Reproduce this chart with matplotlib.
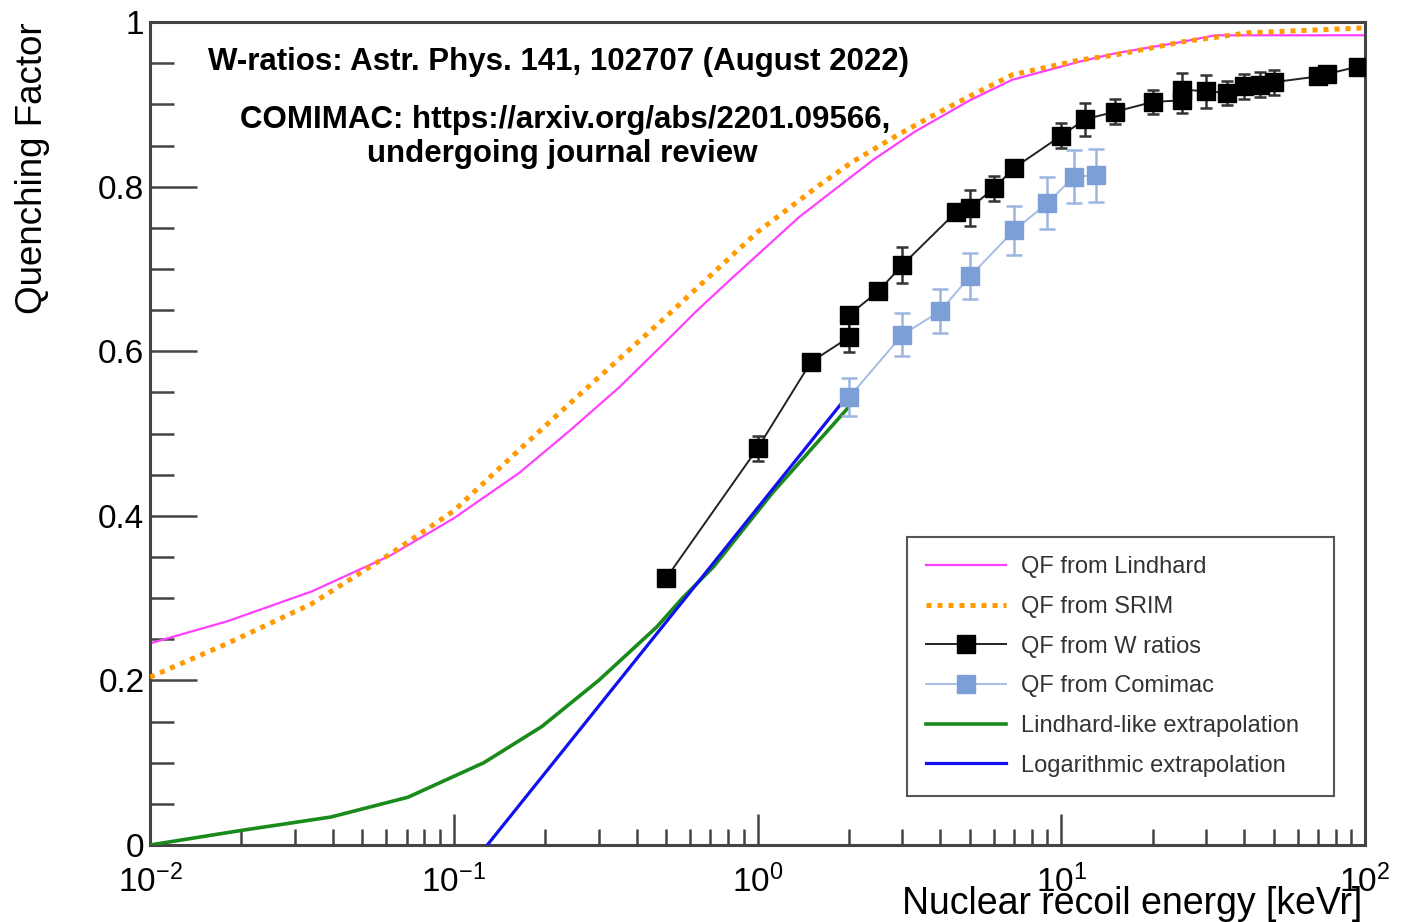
import numpy as np
import matplotlib
matplotlib.use('Agg')
import matplotlib.pyplot as plt
from matplotlib.ticker import MultipleLocator, LogLocator, NullFormatter

plt.rcParams['font.family'] = ['Liberation Sans', 'DejaVu Sans']
plt.rcParams['mathtext.fontset'] = 'custom'
plt.rcParams['mathtext.rm'] = 'Liberation Sans'
plt.rcParams['axes.unicode_minus'] = False

# QF from Lindhard
energy_lindhard = [0.01, 0.018, 0.034, 0.062, 0.1, 0.164, 0.24, 0.35, 0.5, 0.63, 0.83,
                   1.37, 2.39, 3.3, 5.0, 6.9, 11.5, 15, 25, 32, 100]
qf_lindhard = [0.245, 0.272, 0.308, 0.352, 0.397, 0.452, 0.503, 0.556, 0.612, 0.649, 0.690,
               0.763, 0.832, 0.867, 0.905, 0.930, 0.952, 0.962, 0.976, 0.984, 0.984]

# QF from SRIM
energy_srim = [0.01, 0.018, 0.034, 0.062, 0.1, 0.164, 0.24, 0.31, 0.5, 0.7, 1.0,
               1.6, 2.05, 2.87, 3.67, 5.0, 6.9, 11.5, 15, 25, 41, 100]
qf_srim = [0.204, 0.245, 0.293, 0.354, 0.406, 0.480, 0.536, 0.573, 0.642, 0.692, 0.745,
           0.802, 0.830, 0.862, 0.884, 0.910, 0.936, 0.954, 0.960, 0.976, 0.987, 0.993]

# QF from W ratios (points + errors)
energy_wratio = [0.5, 1.0, 1.5, 2.0, 2.0, 2.5, 3.0, 4.5, 5.0, 6.0, 7.0, 10, 12, 15, 20,
                 25, 25, 30, 35, 40, 45, 50, 70, 75, 95]
qf_wratio = [0.324, 0.482, 0.587, 0.617, 0.644, 0.673, 0.705, 0.769, 0.774, 0.798, 0.823,
             0.862, 0.882, 0.891, 0.903, 0.905, 0.918, 0.916, 0.914, 0.922, 0.924, 0.927,
             0.934, 0.937, 0.946]
err_wratio = [0.005, 0.015, 0.005, 0.018, 0.01, 0.01, 0.022, 0.005, 0.022, 0.015, 0.005,
              0.015, 0.02, 0.015, 0.015, 0.015, 0.02, 0.02, 0.015, 0.015, 0.015, 0.015,
              0.005, 0.005, 0.005]

# QF from Comimac
energy_comimac = [2.0, 3.0, 4.0, 5.0, 7.0, 9.0, 11.0, 13.0]
qf_comimac = [0.544, 0.620, 0.649, 0.691, 0.747, 0.780, 0.812, 0.814]
err_comimac = [0.023, 0.026, 0.027, 0.028, 0.030, 0.032, 0.032, 0.032]

# Lindhard-like extrapolation
energy_lindlike = [0.01, 0.0202, 0.0394, 0.0706, 0.1256, 0.195, 0.30, 0.466, 0.566, 0.716, 1.12, 2.05]
qf_lindlike = [0.0, 0.018, 0.034, 0.058, 0.100, 0.144, 0.200, 0.265, 0.300, 0.338, 0.428, 0.537]

# Logarithmic extrapolation
energy_log = [0.129, 2.05]
qf_log = [0.0, 0.553]

fig = plt.figure(figsize=(14.08, 9.22), dpi=100)
ax = fig.add_axes([0.1065, 0.0835, 0.863, 0.8925])

ax.plot(energy_lindhard, qf_lindhard, color='#ff40ff', lw=1.6, label='QF from Lindhard', zorder=2)
ax.plot(energy_srim, qf_srim, color='#ff9a00', lw=3.6, linestyle=(0, (1, 1.2)),
        label='QF from SRIM', zorder=3)

ax.plot(energy_lindlike, qf_lindlike, color='#1a8a1a', lw=2.6, label='Lindhard-like extrapolation', zorder=3)
ax.plot(energy_log, qf_log, color='#1010f0', lw=2.3, label='Logarithmic extrapolation', zorder=4)

ax.errorbar(energy_wratio, qf_wratio, yerr=err_wratio, fmt='none', ecolor='#333333',
            elinewidth=1.8, capsize=4.5, capthick=1.8, zorder=5)
ax.plot(energy_wratio, qf_wratio, color='#222222', lw=1.4, marker='s', markersize=13.5,
        markerfacecolor='black', markeredgecolor='black', label='QF from W ratios', zorder=6)

ax.errorbar(energy_comimac, qf_comimac, yerr=err_comimac, fmt='none', ecolor='#9db5e0',
            elinewidth=1.8, capsize=6, capthick=1.8, zorder=5)
ax.plot(energy_comimac, qf_comimac, color='#a4bbe4', lw=1.4, marker='s', markersize=13.5,
        markerfacecolor='#7b9fd6', markeredgecolor='#7b9fd6', label='QF from Comimac', zorder=6)

ax.set_xscale('log')
ax.set_xlim(0.01, 100)
ax.set_ylim(0, 1)

ax.set_yticks([0, 0.2, 0.4, 0.6, 0.8, 1.0])
ax.set_yticklabels(['0', '0.2', '0.4', '0.6', '0.8', '1'])
ax.yaxis.set_minor_locator(MultipleLocator(0.05))
ax.xaxis.set_major_locator(LogLocator(base=10))
ax.xaxis.set_minor_locator(LogLocator(base=10, subs=np.arange(2, 10)))
ax.xaxis.set_minor_formatter(NullFormatter())

ax.tick_params(axis='both', which='both', direction='in', colors='#444444', width=1.8,
               top=False, right=False, labelcolor='black', labelsize=24)
ax.tick_params(axis='y', which='major', length=34, pad=4)
ax.tick_params(axis='y', which='minor', length=17)
ax.tick_params(axis='x', which='major', length=22, pad=14)
ax.tick_params(axis='x', which='minor', length=11.5)

for sp in ax.spines.values():
    sp.set_linewidth(2.2)
    sp.set_color('#444444')

ax.set_ylabel('Quenching Factor', fontsize=26.5, loc='top')
ax.yaxis.set_label_coords(-0.082, 1.0)
ax.set_xlabel('Nuclear recoil energy [keVr]', fontsize=27, loc='right')
ax.xaxis.set_label_coords(0.998, -0.05)

ax.text(0.336, 0.951, 'W-ratios: Astr. Phys. 141, 102707 (August 2022)', transform=ax.transAxes,
        ha='center', va='center', fontsize=22.5, fontweight='bold')
ax.text(0.3415, 0.881, 'COMIMAC: https://arxiv.org/abs/2201.09566,', transform=ax.transAxes,
        ha='center', va='center', fontsize=22.5, fontweight='bold')
ax.text(0.339, 0.840, 'undergoing journal review', transform=ax.transAxes,
        ha='center', va='center', fontsize=22.5, fontweight='bold')

handles, labels = ax.get_legend_handles_labels()
order = ['QF from Lindhard', 'QF from SRIM', 'QF from W ratios', 'QF from Comimac',
         'Lindhard-like extrapolation', 'Logarithmic extrapolation']
hmap = dict(zip(labels, handles))
leg = ax.legend([hmap[k] for k in order], order, loc='upper left',
                bbox_to_anchor=(0.623, 0.0595, 0.3515, 0.3145), mode='expand',
                borderaxespad=0, fontsize=17, labelspacing=0.75, borderpad=0.8,
                handlelength=3.4, handletextpad=0.64, fancybox=False, framealpha=1,
                edgecolor='#555555', labelcolor='#333333')
leg.get_frame().set_linewidth(1.5)

fig.savefig('out.png', dpi=100)
